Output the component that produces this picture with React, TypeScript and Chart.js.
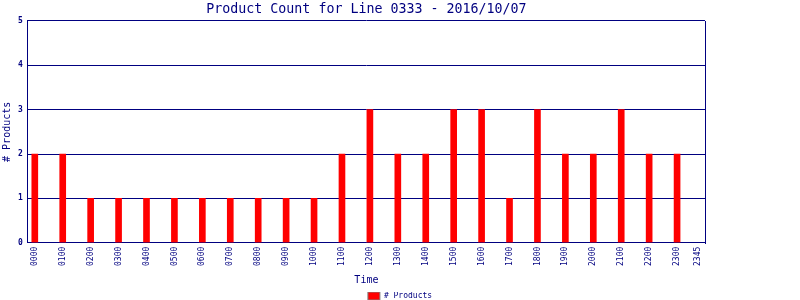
import React, { useEffect, useRef } from "react";
import { Chart, registerables } from "chart.js";

Chart.register(...registerables);

const TITLE = "Product Count for Line 0333 - 2016/10/07";
const SERIES_NAME = "# Products";
const HOURS = ["0000","0100","0200","0300","0400","0500","0600","0700","0800","0900","1000","1100","1200","1300","1400","1500","1600","1700","1800","1900","2000","2100","2200","2300"];
const COUNTS = [2,2,1,1,1,1,1,1,1,1,1,2,3,2,2,3,3,1,3,2,2,3,2,2];
const TICK_LABELS = [...HOURS, "2345"];
const Y_MAX = 5;

const NAVY = "#000080";
const MONO = "'DejaVu Sans Mono', 'Liberation Mono', monospace";

const toHours = (s: string) => parseInt(s.slice(0, 2), 10) + parseInt(s.slice(2), 10) / 60;

const frame = {
  id: "frame",
  afterDatasetsDraw(chart: any) {
    const { ctx, chartArea } = chart;
    ctx.save();
    ctx.strokeStyle = NAVY;
    ctx.lineWidth = 1;
    const x = Math.round(chartArea.right) + 0.5;
    ctx.beginPath();
    ctx.moveTo(x, Math.round(chartArea.top));
    ctx.lineTo(x, Math.round(chartArea.bottom) + 1);
    ctx.stroke();
    ctx.restore();
  },
};

export default function App() {
  const ref = useRef<HTMLCanvasElement>(null);
  useEffect(() => {
    document.body.style.margin = "0";
    const chart = new Chart(ref.current!, {
      type: "bar",
      data: {
        datasets: [
          {
            label: SERIES_NAME,
            data: HOURS.map((h, i) => ({ x: toHours(h), y: COUNTS[i] })),
            backgroundColor: "#ff0000",
            borderWidth: 0,
            barThickness: 6,
          },
        ],
      },
      options: {
        animation: false,
        responsive: false,
        layout: { padding: { left: 0, right: 0, top: 0, bottom: -10 } },
        plugins: {
          title: {
            display: true,
            text: TITLE,
            color: NAVY,
            fullSize: false,
            font: { family: MONO, size: 13.3, weight: "normal" },
            padding: { top: 2, bottom: 3 },
          },
          legend: {
            position: "bottom",
            labels: {
              color: NAVY,
              font: { family: MONO, size: 8 },
              boxWidth: 12,
              boxHeight: 8,
              padding: 0,
              generateLabels: () => [
                {
                  text: SERIES_NAME,
                  fillStyle: "#ff0000",
                  strokeStyle: "#808080",
                  lineWidth: 1,
                  fontColor: NAVY,
                  datasetIndex: 0,
                } as any,
              ],
            },
          },
          tooltip: { enabled: false },
        },
        scales: {
          x: {
            type: "linear",
            min: -0.25,
            max: 24,
            offset: false,
            grid: { display: false, drawTicks: false },
            border: { display: true, color: NAVY, width: 1 },
            afterBuildTicks: (axis: any) => {
              axis.ticks = TICK_LABELS.map((l) => ({ value: toHours(l) }));
            },
            ticks: {
              autoSkip: false,
              maxRotation: 90,
              minRotation: 90,
              padding: 4,
              color: NAVY,
              font: { family: MONO, size: 8 },
              callback: (v: any) => {
                const found = TICK_LABELS.find((l) => Math.abs(toHours(l) - v) < 1e-6);
                return found ?? "";
              },
            },
            title: {
              display: true,
              text: "Time",
              color: NAVY,
              font: { family: MONO, size: 10 },
              padding: { top: 4, bottom: 6 },
            },
          },
          y: {
            min: 0,
            max: Y_MAX,
            grid: { color: NAVY, lineWidth: 1, drawTicks: false },
            border: { display: true, color: NAVY, width: 1 },
            ticks: {
              stepSize: 1,
              padding: 5,
              color: NAVY,
              font: { family: MONO, size: 8, weight: "bold" },
            },
            title: {
              display: true,
              text: "# Products",
              color: NAVY,
              font: { family: MONO, size: 10 },
              padding: { top: 1, bottom: 0 },
            },
          },
          spacer: {
            type: "linear",
            position: "right",
            min: 0,
            max: 1,
            grid: { display: false, drawTicks: false },
            border: { display: false },
            ticks: { display: false },
            afterFit: (s: any) => {
              s.width = 95;
            },
          },
        },
      },
      plugins: [frame],
    });
    return () => chart.destroy();
  }, []);
  return (
    <div style={{ width: 800, height: 300, background: "#fff" }}>
      <canvas ref={ref} width={800} height={300} />
    </div>
  );
}
